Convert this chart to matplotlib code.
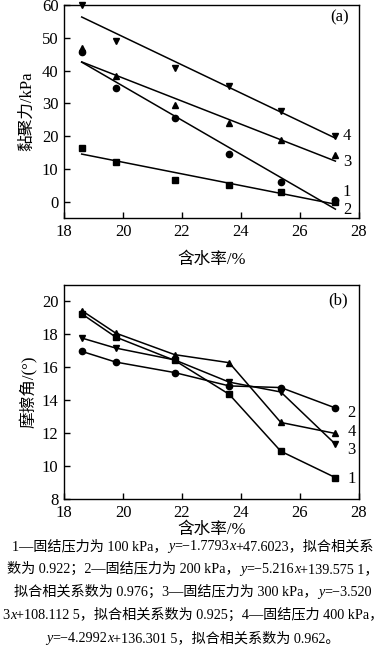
import numpy as np
import matplotlib
matplotlib.use("Agg")
import matplotlib.pyplot as plt

plt.rcParams['font.family'] = ['Liberation Serif', 'Noto Sans CJK SC', 'DejaVu Sans']

# water content (%)
water = [18.6, 19.75, 21.75, 23.6, 25.35, 27.2]

# (a) cohesion, kPa
coh1 = [16.5, 12.1, 6.5, 5.0, 3.0, -0.2]
coh2 = [45.6, 34.6, 25.4, 14.5, 6.0, 0.6]
coh3 = [47.0, 38.4, 29.5, 24.0, 18.9, 14.3]
coh4 = [60.0, 49.0, 40.7, 35.3, 27.8, 19.9]
# linear fits from caption: slope, intercept
fit_k = [-1.7793, -5.216, -3.5203, -4.2992]
fit_b = [47.6023, 139.5751, 108.1125, 136.3015]

# (b) friction angle, degree
fri1 = [19.25, 17.84, 16.42, 14.36, 10.9, 9.3]
fri2 = [16.97, 16.32, 15.68, 14.87, 14.77, 13.53]
fri3 = [17.78, 17.17, 16.45, 15.1, 14.5, 11.33]
fri4 = [19.45, 18.08, 16.77, 16.28, 12.65, 11.98]

W, H = 386, 666
fig = plt.figure(figsize=(W / 100, H / 100), dpi=100)
FS = 12

def style(ax):
    ax.tick_params(direction='in', labelsize=FS, length=4, width=1, pad=4)
    for s in ax.spines.values():
        s.set_linewidth(1.0)
    ax.set_xlim(18, 28)
    ax.set_xticks([18, 20, 22, 24, 26, 28])

# ---- panel (a)
ax1 = fig.add_axes([64 / W, 1 - 218 / H, 295 / W, 213 / H])
style(ax1)
ax1.set_ylim(-5, 60)
ax1.set_yticks([0, 10, 20, 30, 40, 50, 60])
mk = dict(color='black', markersize=4.5, linestyle='none', clip_on=False)
ax1.plot(water, coh1, marker='s', **mk)
ax1.plot(water, coh2, marker='o', **mk)
ax1.plot(water, coh3, marker='^', **mk)
ax1.plot(water, coh4, marker='v', **mk)
xx = np.array([water[0], water[-1]])
for k, b in zip(fit_k, fit_b):
    ax1.plot(xx, k * xx + b, color='black', lw=1.1)
for lab, yv in zip(['4', '3', '1', '2'], [20, 12, 2.8, -2.5]):
    ax1.text(27.45, yv, lab, fontsize=FS, va='center', ha='left')
ax1.text(0.935, 0.94, '(a)', transform=ax1.transAxes, fontsize=FS, ha='center', va='center')
ax1.set_xlabel('含水率/%', fontsize=FS, labelpad=9)
ax1.set_ylabel('黏聚力/kPa', fontsize=FS, labelpad=5)

# ---- panel (b)
ax2 = fig.add_axes([64 / W, 1 - 499 / H, 295 / W, 214 / H])
style(ax2)
ax2.set_ylim(8, 21)
ax2.set_yticks([8, 10, 12, 14, 16, 18, 20])
ln = dict(color='black', markersize=4.5, lw=1.1)
ax2.plot(water, fri1, marker='s', **ln)
ax2.plot(water, fri2, marker='o', **ln)
ax2.plot(water, fri3, marker='v', **ln)
ax2.plot(water, fri4, marker='^', **ln)
for lab, yv in zip(['2', '4', '3', '1'], [13.2, 12.1, 11.0, 9.2]):
    ax2.text(27.6, yv, lab, fontsize=FS, va='center', ha='left')
ax2.text(0.93, 0.93, '(b)', transform=ax2.transAxes, fontsize=FS, ha='center', va='center')
ax2.set_xlabel('含水率/%', fontsize=FS, labelpad=1)
ax2.set_ylabel('摩擦角/(°)', fontsize=FS, labelpad=3)

# ---- caption, pieces marked with '*' are italic
caption = [
    ['1—固结压力为 100 kPa，', '*y', '=−1.7793', '*x', '+47.6023，拟合相关系'],
    ['数为 0.922；2—固结压力为 200 kPa，', '*y', '=−5.216', '*x', '+139.575 1，'],
    ['拟合相关系数为 0.976；3—固结压力为 300 kPa，', '*y', '=−3.520'],
    ['3', '*x', '+108.112 5，拟合相关系数为 0.925；4—固结压力 400 kPa，'],
    ['*y', '=−4.2992', '*x', '+136.301 5，拟合相关系数为 0.962。'],
]
cap_y = [545, 568, 591, 614, 637]
cap_fs = 10.2
renderer = fig.canvas.get_renderer()
for parts, yp in zip(caption, cap_y):
    texts = []
    for p in parts:
        italic = p.startswith('*')
        s = p[1:] if italic else p
        t = fig.text(0, 1 - yp / H, s, fontsize=cap_fs, ha='left', va='baseline',
                     style='italic' if italic else 'normal')
        texts.append(t)
    widths = [t.get_window_extent(renderer).width for t in texts]
    x = 193 - sum(widths) / 2
    for t, w in zip(texts, widths):
        t.set_x(x / W)
        t.set_y(1 - (yp + 5) / H)
        x += w

fig.savefig('out.png', dpi=100)
